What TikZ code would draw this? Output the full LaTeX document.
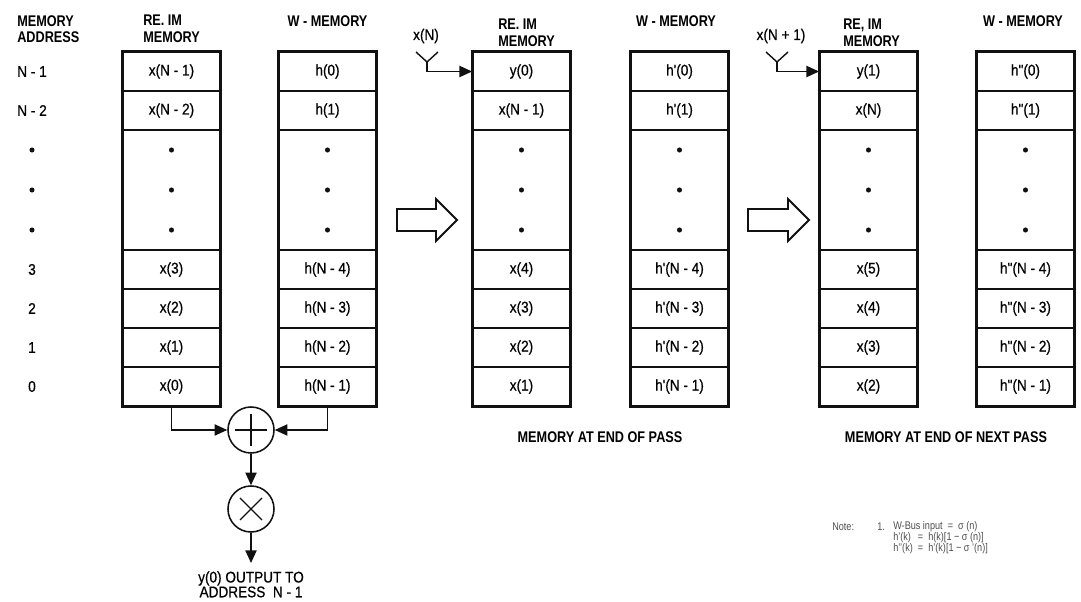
\documentclass[tikz,border=0pt]{standalone}
\usepackage{fontspec}
\setmainfont{Liberation Sans}[FakeStretch=0.82]
\newfontfamily\cellfam{Liberation Sans}[FakeStretch=0.88, FakeBold=0.6]
\usetikzlibrary{arrows.meta}
\definecolor{Ink}{HTML}{111111}
\definecolor{Mute}{HTML}{4D4D4D}
\newcommand{\cellfont}{\cellfam\fontsize{11pt}{12pt}\selectfont}
\newcommand{\headfont}{\fontsize{11pt}{11.5pt}\selectfont\bfseries}
\newcommand{\smallnote}{\fontsize{7.9pt}{7.6pt}\selectfont}
\tikzset{
  cell/.style={draw=Ink, line width=1.3pt, minimum width=2.425cm, minimum height=0.975cm, inner sep=0pt, font=\cellfont},
  dotblock/.style={cell, minimum height=3cm},
  frame/.style={draw=Ink, line width=2pt},
  wire/.style={draw=Ink, line width=1pt},
  flow/.style={wire, -{Triangle[length=9pt,width=8pt]}},
  op/.style={circle, draw=Ink, line width=1.1pt, minimum size=1.15cm, inner sep=0pt},
  hdr/.style={font=\headfont, align=left, inner sep=0pt},
}

\begin{document}
\begin{tikzpicture}[x=0.025cm,y=-0.025cm]
  \useasboundingbox (0,0) rectangle (1081,602);
  % address column
  \node[hdr, anchor=north west] (addrhd) at (17,15) {MEMORY\\ADDRESS};
  \foreach \y/\lab [count=\i] in {71.5/N - 1,110.5/N - 2,269.5/3,308.5/2,347.5/1,386.5/0}
    \node[font=\cellfont] (addr\i) at (32,\y) {\lab};
  \foreach \y in {150,190,230}
    \fill[Ink] (32,\y) circle (1.8pt);
  % memory columns
  \foreach \m/\xl/\cA/\cB/\cC/\cD/\cE/\cF in {
    re1/123/x(N - 1)/x(N - 2)/x(3)/x(2)/x(1)/x(0),
    w1/279/h(0)/h(1)/h(N - 4)/h(N - 3)/h(N - 2)/h(N - 1),
    re2/473/y(0)/x(N - 1)/x(4)/x(3)/x(2)/x(1),
    w2/631/h'(0)/h'(1)/h'(N - 4)/h'(N - 3)/h'(N - 2)/h'(N - 1),
    re3/820/y(1)/x(N)/x(5)/x(4)/x(3)/x(2),
    w3/977/h"(0)/h"(1)/h"(N - 4)/h"(N - 3)/h"(N - 2)/h"(N - 1)} {
    \node[cell] (\m-1) at (\xl+48.5,71.5) {\cA};
    \node[cell] (\m-2) at (\xl+48.5,110.5) {\cB};
    \node[dotblock] (\m-3) at (\xl+48.5,190) {};
    \node[cell] (\m-4) at (\xl+48.5,269.5) {\cC};
    \node[cell] (\m-5) at (\xl+48.5,308.5) {\cD};
    \node[cell] (\m-6) at (\xl+48.5,347.5) {\cE};
    \node[cell] (\m-7) at (\xl+48.5,386.5) {\cF};
    \draw[frame] (\m-1.north west) rectangle (\m-7.south east);
    \foreach \y in {150,190,230}
      \fill[Ink] (\xl+48.5,\y) circle (1.8pt);
  }
  % headers
  \node[hdr, anchor=north west] (re1hd) at (143,15) {RE. IM\\MEMORY};
  \node[hdr, anchor=north] (w1hd) at (327.5,15) {W - MEMORY};
  \node[hdr, anchor=north west] (re2hd) at (498,19) {RE. IM\\MEMORY};
  \node[hdr, anchor=north] (w2hd) at (676,15) {W - MEMORY};
  \node[hdr, anchor=north west] (re3hd) at (843,19) {RE, IM\\MEMORY};
  \node[hdr, anchor=north] (w3hd) at (1023,15) {W - MEMORY};
  % new samples in
  \coordinate (inA) at (427,62);
  \draw[wire] (416,52) -- (inA) -- (438,52);
  \draw[flow] (inA) |- (re2-1.west);
  \node[font=\cellfont] (inAlab) at (426,36) {x(N)};
  \coordinate (inB) at (777,62);
  \draw[wire] (766,52) -- (inB) -- (788,52);
  \draw[flow] (inB) |- (re3-1.west);
  \node[font=\cellfont] (inBlab) at (781,36) {x(N + 1)};
  % pass arrows
  \draw[wire, line width=1.3pt] (397,209) -- (436,209) -- (436,199) -- (457,220)
    -- (436,241) -- (436,231) -- (397,231) -- cycle;
  \draw[wire, line width=1.3pt] (748,209) -- (788,209) -- (788,199) -- (809,220)
    -- (788,241) -- (788,231) -- (748,231) -- cycle;
  % adder and multiplier
  \node[op] (sum) at (251,430) {};
  \draw[wire] (sum.center) ++(-16,0) -- ++(32,0);
  \draw[wire] (sum.center) ++(0,-16) -- ++(0,32);
  \node[op] (mul) at (251,509) {};
  \draw[wire] (mul.center) ++(-11,-11) -- ++(22,22);
  \draw[wire] (mul.center) ++(-11,11) -- ++(22,-22);
  \draw[flow] (re1-7.south) |- (sum.west);
  \draw[flow] (w1-7.south) |- (sum.east);
  \draw[flow] (sum.south) -- (mul.north);
  \coordinate (outA) at (251,563);
  \draw[flow] (mul.south) -- (outA);
  \node[font=\cellfam\fontsize{11pt}{10.5pt}\selectfont, align=center, anchor=north, inner sep=0pt] (outlab) at (251,571) {y(0) OUTPUT TO\\ADDRESS\ \ N - 1};
  % captions
  \node[font=\headfont] (passA) at (600,437) {MEMORY AT END OF PASS};
  \node[font=\headfont] (passB) at (946,437) {MEMORY AT END OF NEXT PASS};
  % note
  \node[font=\smallnote, text=Mute, anchor=west, inner sep=0pt] (notehd) at (832,527) {Note:};
  \node[font=\smallnote, text=Mute, anchor=west, inner sep=0pt] (notenum) at (877,527) {1.};
  \node[font=\smallnote, text=Mute, anchor=north west, inner sep=0pt] (notebody) at (893,521)
    {\begin{tabular}{@{}l@{\ \ =\ \ }l@{}}
      \multicolumn{2}{@{}l@{}}{W-Bus input \ = \ σ (n)}\\
      h’(k) & h(k)[1 − σ (n)]\\
      h’’(k) & h’(k)[1 − σ ’(n)]
    \end{tabular}};
\end{tikzpicture}
\end{document}
